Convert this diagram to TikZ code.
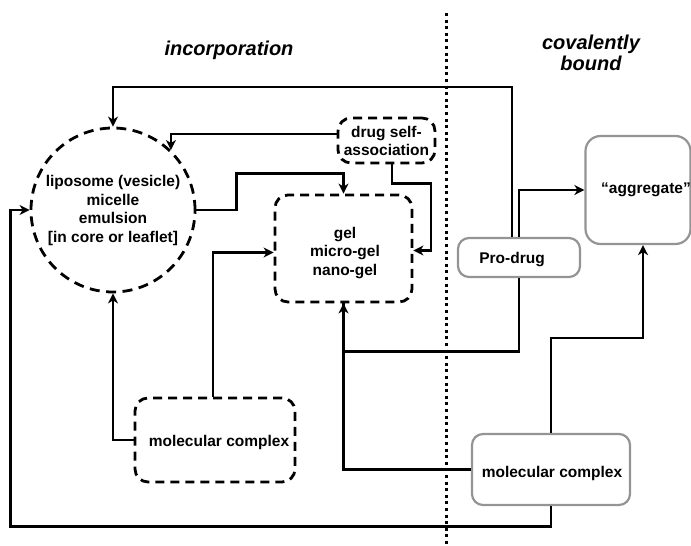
\documentclass[tikz,border=0pt]{standalone}
\usepackage{fontspec}
\setmainfont{Liberation Sans}
\usetikzlibrary{arrows.meta,calc}
\begin{document}
\begin{tikzpicture}[x=1pt,y=-1pt,
  every node/.style={font=\bfseries\fontsize{15.5}{18.5}\selectfont, align=center, inner sep=0pt},
  dbox/.style={draw, line width=2.8pt, dash pattern=on 9pt off 6pt, rounded corners=13pt},
  gbox/.style={draw=black!42, line width=2.2pt, rounded corners=11pt},
  conn/.style={line width=2.8pt, -{Stealth[length=10pt,width=10pt,inset=3pt]}},
  plain/.style={line width=2.8pt},
  ttl/.style={font=\bfseries\itshape\fontsize{20}{22}\selectfont}]
\useasboundingbox (0,0) rectangle (691,546);
% titles
\node[ttl] (tinc) at (229,50) {incorporation};
\node[ttl] (tcov) at (591,53) {covalently\\[-1pt]bound};
% divider
\draw[line width=3pt, dash pattern=on 3pt off 3.6pt] (446,13) coordinate (dtop) -- (446,546) coordinate (dbot);
% nodes
\node[draw, circle, minimum size=164pt, line width=2.8pt, dash pattern=on 10pt off 6.5pt] (circ) at (113,210) {};
\node at (113,210.5) {liposome (vesicle)\\micelle\\emulsion\\{[in core or leaflet]}};
\node[dbox, minimum width=97pt, minimum height=45pt] (dsa) at (386.5,140.5) {};
\node at (386.5,141) {drug self-\\association};
\node[dbox, minimum width=137pt, minimum height=107pt] (gel) at (343.5,248.5) {};
\node at (345,253) {gel\\micro-gel\\nano-gel};
\node[dbox, minimum width=160pt, minimum height=84pt] (mc1) at (215,440) {};
\node at (219,442) {molecular complex};
\node[gbox, minimum width=122pt, minimum height=39pt] (pd) at (519,257.5) {};
\node at (512,260) {Pro-drug};
\node[gbox, minimum width=105pt, minimum height=108pt, rounded corners=15pt] (agg) at (638,190) {};
\node at (646,190) {``aggregate''};
\node[gbox, minimum width=158pt, minimum height=71pt] (mc2) at (551,469.5) {};
\node at (552,473) {molecular complex};
% connectors
\draw[conn] ([xshift=-7pt]pd.north) |- (113,87) -- (circ.north);
\draw[conn] ([yshift=6.5pt]dsa.west) -| (circ.46);
\draw[conn] (circ.east) -- ++(40,0) |- ([yshift=20pt]gel.north) -- (gel.north);
\draw[conn] ([xshift=5.5pt]dsa.south) -- ++(0,19) -- ++(39,0) |- ([yshift=-2pt]gel.east);
\draw[conn] ([xshift=-2pt]mc1.north) |- ([yshift=-4pt]gel.west);
\draw[conn] (mc1.west) -| (circ.south);
\draw[conn] (pd.north) |- (agg.west);
\draw[plain] (pd.south) -- ++(0,73) -| (gel.south);
\draw[conn] (mc2.west) -| (gel.south);
\draw[conn] (mc2.north) -- ++(0,-95) -| ([xshift=5pt]agg.south);
\draw[conn] (mc2.south) -- ++(0,20) -| ([xshift=-19pt]circ.west) -- (circ.west);
\end{tikzpicture}
\end{document}
